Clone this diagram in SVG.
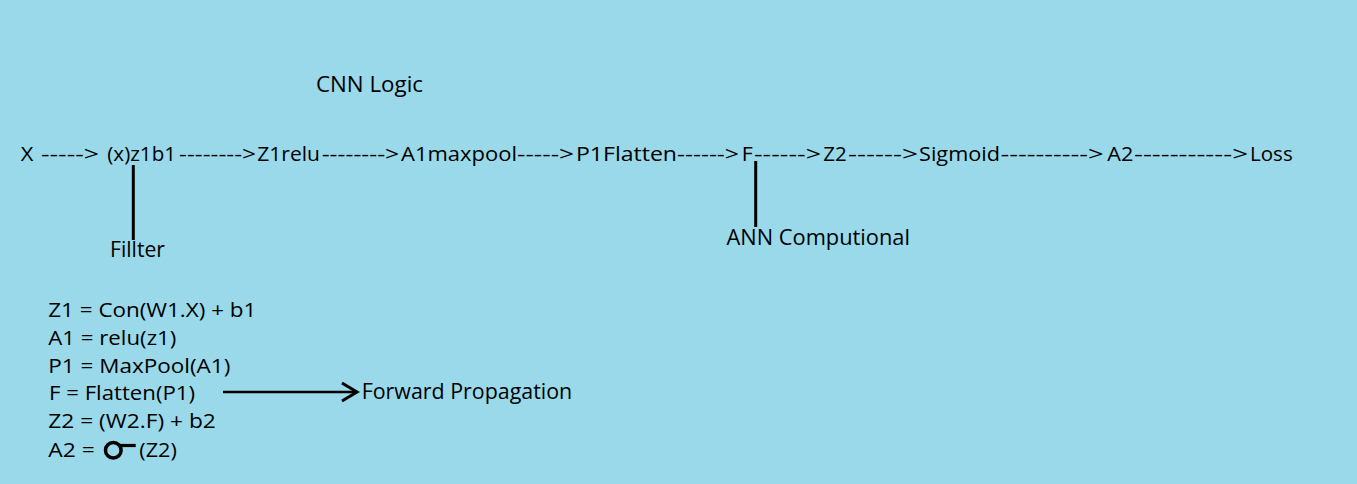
<svg xmlns="http://www.w3.org/2000/svg" width="1357" height="484" viewBox="0 0 1357 484">
  <style>
    .t { font-family: "Open Sans", "Noto Sans", "DejaVu Sans", sans-serif; fill: #000; }
    .main { font-size: 20px; }
    .lbl { font-size: 22px; }
    .eq { font-size: 20px; }
    .conn { stroke: #000; fill: none; }
  </style>
  <defs>
    <marker id="arrow" markerUnits="userSpaceOnUse" markerWidth="22" markerHeight="26" viewBox="0 0 22 26" refX="17" refY="12" orient="auto">
      <path d="M2,3 L17,12 L2,21" stroke="#000" stroke-width="3" fill="none"/>
    </marker>
  </defs>
  <rect x="0" y="0" width="1357" height="484" fill="#99D9EA"/>

  <g id="title">
    <text class="t lbl" x="316" y="91.5" textLength="107" lengthAdjust="spacingAndGlyphs">CNN Logic</text>
  </g>

  <g id="pipeline">
    <text class="t main" x="20.7" y="161" textLength="12.6" lengthAdjust="spacingAndGlyphs">X</text>
    <text class="t main" x="41" y="161" textLength="58" lengthAdjust="spacingAndGlyphs">-----&gt;</text>
    <text class="t main" x="107.3" y="161" textLength="68.7" lengthAdjust="spacingAndGlyphs">(x)z1b1</text>
    <text class="t main" x="179" y="161" textLength="77" lengthAdjust="spacingAndGlyphs">--------&gt;</text>
    <text class="t main" x="257.3" y="161" textLength="62.7" lengthAdjust="spacingAndGlyphs">Z1relu</text>
    <text class="t main" x="321.7" y="161" textLength="77.5" lengthAdjust="spacingAndGlyphs">--------&gt;</text>
    <text class="t main" x="401" y="161" textLength="116" lengthAdjust="spacingAndGlyphs">A1maxpool</text>
    <text class="t main" x="517" y="161" textLength="57" lengthAdjust="spacingAndGlyphs">-----&gt;</text>
    <text class="t main" x="576" y="161" textLength="101" lengthAdjust="spacingAndGlyphs">P1Flatten</text>
    <text class="t main" x="677" y="161" textLength="62" lengthAdjust="spacingAndGlyphs">------&gt;</text>
    <text class="t main" x="741.7" y="161" textLength="11" lengthAdjust="spacingAndGlyphs">F</text>
    <text class="t main" x="754" y="161" textLength="67" lengthAdjust="spacingAndGlyphs">------&gt;</text>
    <text class="t main" x="823.3" y="161" textLength="23.4" lengthAdjust="spacingAndGlyphs">Z2</text>
    <text class="t main" x="848" y="161" textLength="70" lengthAdjust="spacingAndGlyphs">------&gt;</text>
    <text class="t main" x="919" y="161" textLength="81" lengthAdjust="spacingAndGlyphs">Sigmoid</text>
    <text class="t main" x="1000.5" y="161" textLength="103" lengthAdjust="spacingAndGlyphs">----------&gt;</text>
    <text class="t main" x="1107.3" y="161" textLength="26" lengthAdjust="spacingAndGlyphs">A2</text>
    <text class="t main" x="1134" y="161" textLength="114" lengthAdjust="spacingAndGlyphs">-----------&gt;</text>
    <text class="t main" x="1250" y="161" textLength="42.7" lengthAdjust="spacingAndGlyphs">Loss</text>
  </g>

  <g id="filter">
    <text class="t lbl" x="110" y="256.5" textLength="55" lengthAdjust="spacingAndGlyphs">Fillter</text>
  </g>

  <g id="ann">
    <text class="t lbl" x="726.5" y="245" textLength="183.5" lengthAdjust="spacingAndGlyphs">ANN Computional</text>
  </g>

  <g id="equations">
    <text class="t eq" x="48.3" y="316.5" textLength="208" lengthAdjust="spacingAndGlyphs">Z1 = Con(W1.X) + b1</text>
    <text class="t eq" x="48.3" y="344.8" textLength="128" lengthAdjust="spacingAndGlyphs">A1 = relu(z1)</text>
    <text class="t eq" x="48.3" y="372.6" textLength="182" lengthAdjust="spacingAndGlyphs">P1 = MaxPool(A1)</text>
    <text class="t eq" x="49" y="400.2" textLength="146" lengthAdjust="spacingAndGlyphs">F = Flatten(P1)</text>
    <text class="t eq" x="48.3" y="428.3" textLength="167.5" lengthAdjust="spacingAndGlyphs">Z2 = (W2.F) + b2</text>
    <text class="t eq" x="48.3" y="457" textLength="46.5" lengthAdjust="spacingAndGlyphs">A2 =</text>
    <circle cx="113.3" cy="450.2" r="7.8" stroke="#000" stroke-width="3.5" fill="none"/>
    <line x1="120" y1="445.5" x2="135.7" y2="445.5" stroke="#000" stroke-width="3.2"/>
    <text class="t eq" x="139.3" y="457" textLength="37.5" lengthAdjust="spacingAndGlyphs">(Z2)</text>
  </g>

  <g id="forward">
    <text class="t lbl" x="361.7" y="398.5" textLength="210.5" lengthAdjust="spacingAndGlyphs">Forward Propagation</text>
  </g>

  <g id="connectors">
    <line class="conn" x1="133.3" y1="165" x2="133.3" y2="240" stroke-width="3"/>
    <line class="conn" x1="755.7" y1="161" x2="755.7" y2="227" stroke-width="3"/>
    <line class="conn" x1="223" y1="392" x2="357" y2="392" stroke-width="2.6" marker-end="url(#arrow)"/>
  </g>
</svg>
